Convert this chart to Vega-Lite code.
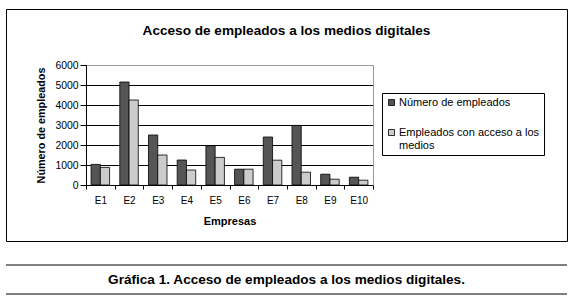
{
  "$schema": "https://vega.github.io/schema/vega-lite/v6.json",
  "padding": {"left": 5, "top": 8, "right": 0, "bottom": 0},
  "config": {
    "font": "Liberation Sans",
    "axis": {"labelFont": "Liberation Sans", "titleFont": "Liberation Sans", "labelColor": "black", "titleColor": "black"},
    "legend": {"labelFont": "Liberation Sans"},
    "title": {"font": "Liberation Sans"}
  },
  "vconcat": [
    {
      "width": 561,
      "height": 232,
      "view": {"stroke": "black", "strokeWidth": 1},
      "title": {"text": "Acceso de empleados a los medios digitales", "fontSize": 13.6, "fontWeight": "bold", "color": "black", "anchor": "middle", "offset": -29},
      "data": {
        "values": [
          {"empresa": "E1", "serie": "Número de empleados", "valor": 1030},
          {"empresa": "E1", "serie": "Empleados con acceso a los medios", "valor": 880},
          {"empresa": "E2", "serie": "Número de empleados", "valor": 5150},
          {"empresa": "E2", "serie": "Empleados con acceso a los medios", "valor": 4250},
          {"empresa": "E3", "serie": "Número de empleados", "valor": 2500},
          {"empresa": "E3", "serie": "Empleados con acceso a los medios", "valor": 1500},
          {"empresa": "E4", "serie": "Número de empleados", "valor": 1250},
          {"empresa": "E4", "serie": "Empleados con acceso a los medios", "valor": 750},
          {"empresa": "E5", "serie": "Número de empleados", "valor": 1960},
          {"empresa": "E5", "serie": "Empleados con acceso a los medios", "valor": 1380},
          {"empresa": "E6", "serie": "Número de empleados", "valor": 790},
          {"empresa": "E6", "serie": "Empleados con acceso a los medios", "valor": 790},
          {"empresa": "E7", "serie": "Número de empleados", "valor": 2400},
          {"empresa": "E7", "serie": "Empleados con acceso a los medios", "valor": 1240},
          {"empresa": "E8", "serie": "Número de empleados", "valor": 2980},
          {"empresa": "E8", "serie": "Empleados con acceso a los medios", "valor": 640},
          {"empresa": "E9", "serie": "Número de empleados", "valor": 540},
          {"empresa": "E9", "serie": "Empleados con acceso a los medios", "valor": 290},
          {"empresa": "E10", "serie": "Número de empleados", "valor": 390},
          {"empresa": "E10", "serie": "Empleados con acceso a los medios", "valor": 240}
        ]
      },
      "encoding": {
        "x": {
          "field": "empresa", "type": "nominal", "sort": null,
          "scale": {"range": [80, 367], "paddingInner": 0, "paddingOuter": 0},
          "axis": {
            "title": "Empresas", "titleFontSize": 11, "titleFontWeight": "bold", "titlePadding": 10,
            "labelAngle": 0, "labelFontSize": 10, "labelPadding": 6,
            "offset": -56, "tickBand": "extent", "tickSize": 4, "tickColor": "black",
            "domainColor": "black", "grid": false
          }
        },
        "xOffset": {
          "field": "serie", "type": "nominal",
          "sort": ["Número de empleados", "Empleados con acceso a los medios"],
          "scale": {"paddingInner": 0, "paddingOuter": 0.55}
        },
        "y": {
          "field": "valor", "type": "quantitative",
          "scale": {"domain": [0, 6000], "range": [176, 56], "nice": false}
        }
      },
      "layer": [
        {
          "mark": {"type": "bar", "stroke": "black", "strokeWidth": 0.8},
          "encoding": {
            "y": {
              "field": "valor", "type": "quantitative",
              "scale": {"domain": [0, 6000], "range": [176, 56], "nice": false},
              "axis": {
                "title": "Número de empleados", "titleFontSize": 10.8, "titleFontWeight": "bold", "titlePadding": 8,
                "orient": "left", "offset": -80, "values": [0, 1000, 2000, 3000, 4000, 5000, 6000],
                "format": "d", "labelOverlap": false,
                "labelFontSize": 10.4, "labelPadding": 2, "tickSize": 6, "tickColor": "black", "domainColor": "black",
                "grid": true, "gridColor": {"condition": {"test": "datum.value === 6000", "value": "#999999"}, "value": "black"}, "gridWidth": 1
              }
            },
            "color": {
              "field": "serie", "type": "nominal",
              "sort": ["Número de empleados", "Empleados con acceso a los medios"],
              "scale": {"domain": ["Número de empleados", "Empleados con acceso a los medios"], "range": ["#555555", "#cccccc"]},
              "legend": {
                "title": null, "orient": "none", "legendX": 376, "legendY": 84,
                "direction": "vertical",
                "strokeColor": "black", "padding": 4, "rowPadding": 18,
                "symbolType": "square", "symbolSize": 36, "symbolStrokeColor": "black", "symbolStrokeWidth": 0.8,
                "labelFontSize": 11, "labelColor": "black", "labelOffset": 2, "labelLimit": 300,
                "labelExpr": "datum.label == 'Empleados con acceso a los medios' ? ['Empleados con acceso a los', 'medios'] : datum.label"
              }
            }
          }
        },
        {
          "mark": {"type": "bar", "opacity": 0},
          "encoding": {
            "y": {
              "field": "valor", "type": "quantitative",
              "scale": {"domain": [0, 6000], "range": [176, 56], "nice": false},
              "axis": {"title": null, "orient": "right", "offset": -194, "labels": false, "ticks": false, "grid": false, "domainColor": "#999999"}
            }
          }
        }
      ],
      "resolve": {"axis": {"y": "independent"}}
    },
    {
      "width": 561,
      "height": 29,
      "view": {"stroke": null},
      "data": {"values": [{"texto": "Gráfica 1. Acceso de empleados a los medios digitales."}]},
      "layer": [
        {
          "mark": {"type": "rule", "color": "black", "strokeWidth": 1},
          "encoding": {"y": {"datum": 0, "type": "quantitative", "scale": {"domain": [0, 1]}, "axis": null}}
        },
        {
          "mark": {"type": "rule", "color": "black", "strokeWidth": 1},
          "encoding": {"y": {"datum": 1, "type": "quantitative", "scale": {"domain": [0, 1]}, "axis": null}}
        },
        {
          "mark": {"type": "text", "fontSize": 13.6, "fontWeight": "bold", "color": "black", "baseline": "middle", "align": "center"},
          "encoding": {"text": {"field": "texto"}}
        }
      ]
    }
  ],
  "spacing": 22
}
